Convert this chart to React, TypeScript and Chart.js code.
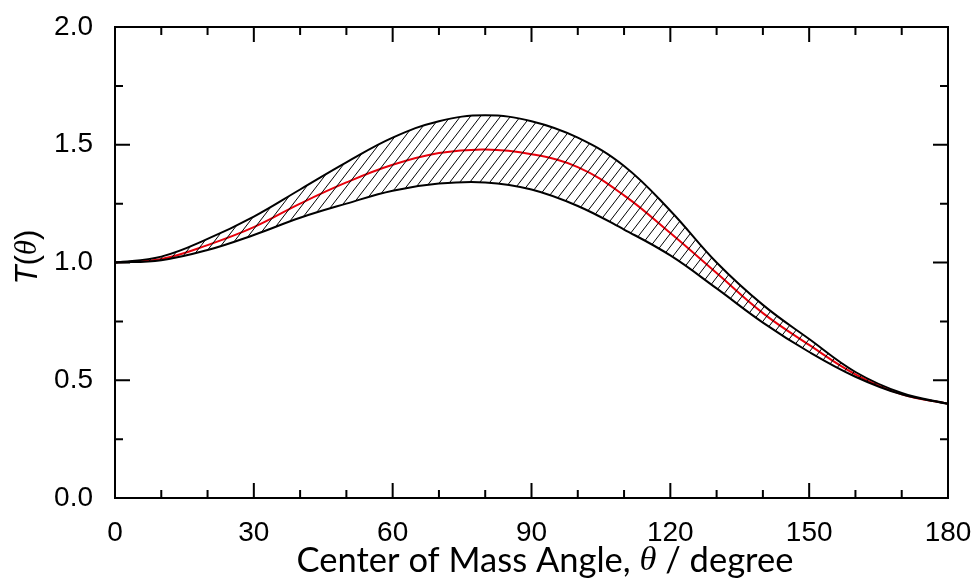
import React, { useEffect, useRef } from "react";
import { Chart, registerables } from "chart.js";

Chart.register(...registerables);

// ---- data ----
const angles = [0, 10, 20, 30, 40, 50, 60, 70, 80, 90, 100, 110, 120, 130, 140, 150, 160, 170, 180];
const upperBound = [1.0, 1.025, 1.1, 1.195, 1.31, 1.425, 1.53, 1.6, 1.625, 1.6, 1.53, 1.41, 1.22, 1.0, 0.82, 0.675, 0.535, 0.446, 0.4];
const lowerBound = [1.0, 1.01, 1.053, 1.117, 1.19, 1.25, 1.305, 1.335, 1.34, 1.31, 1.24, 1.14, 1.03, 0.89, 0.745, 0.62, 0.515, 0.44, 0.4];
const meanT = [1.0, 1.015, 1.074, 1.15, 1.25, 1.34, 1.415, 1.465, 1.48, 1.46, 1.405, 1.285, 1.125, 0.955, 0.785, 0.65, 0.525, 0.44, 0.4];

const xMajorTicks = [0, 30, 60, 90, 120, 150, 180];
const xMinorTicks = [10, 20, 40, 50, 70, 80, 100, 110, 130, 140, 160, 170];
const yMajorTicks = [0, 0.5, 1.0, 1.5, 2.0];
const yMinorTicks = [0.25, 0.75, 1.25, 1.75];

const xTitleParts = [
  { text: "Center of Mass Angle, ", font: "34.5px Lato" },
  { text: "\u03B8", font: "italic 34.5px 'Liberation Serif'" },
  { text: " / degree", font: "34.5px Lato" },
];
const yTitleParts = [
  { text: "T", font: "italic 31px 'Liberation Sans'" },
  { text: "(", font: "31px 'Liberation Sans'" },
  { text: "\u03B8", font: "italic 31px 'Liberation Serif'" },
  { text: ")", font: "31px 'Liberation Sans'" },
];

function drawParts(ctx: CanvasRenderingContext2D, parts: { text: string; font: string }[], cx: number, cy: number) {
  let total = 0;
  const widths = parts.map((p) => {
    ctx.font = p.font;
    const w = ctx.measureText(p.text).width;
    total += w;
    return w;
  });
  let x = cx - total / 2;
  ctx.textBaseline = "middle";
  ctx.textAlign = "left";
  parts.forEach((p, i) => {
    ctx.font = p.font;
    ctx.fillText(p.text, x, cy);
    x += widths[i];
  });
}

const framePlugin = {
  id: "framePlugin",
  afterDraw(chart: any) {
    const { ctx, chartArea: a, scales } = chart;
    const xs = scales.x;
    const ys = scales.y;
    ctx.save();
    ctx.strokeStyle = "#000";
    ctx.lineWidth = 2;
    ctx.strokeRect(a.left, a.top, a.right - a.left, a.bottom - a.top);
    ctx.beginPath();
    const xt = (v: number, len: number) => {
      const px = xs.getPixelForValue(v);
      ctx.moveTo(px, a.bottom);
      ctx.lineTo(px, a.bottom - len);
      ctx.moveTo(px, a.top);
      ctx.lineTo(px, a.top + len);
    };
    const yt = (v: number, len: number) => {
      const py = ys.getPixelForValue(v);
      ctx.moveTo(a.left, py);
      ctx.lineTo(a.left + len, py);
      ctx.moveTo(a.right, py);
      ctx.lineTo(a.right - len, py);
    };
    xMajorTicks.forEach((v) => xt(v, 15));
    xMinorTicks.forEach((v) => xt(v, 8));
    yMajorTicks.forEach((v) => yt(v, 15));
    yMinorTicks.forEach((v) => yt(v, 8));
    ctx.stroke();

    ctx.fillStyle = "#000";
    drawParts(ctx, xTitleParts, 545, 561);
    ctx.save();
    ctx.translate(28, 257);
    ctx.rotate(-Math.PI / 2);
    drawParts(ctx, yTitleParts, 0, 0);
    ctx.restore();
    ctx.restore();
  },
};

function makeHatch(): CanvasPattern | string {
  const w = 10;
  const h = 13;
  const c = document.createElement("canvas");
  c.width = w;
  c.height = h;
  const g = c.getContext("2d");
  if (!g) return "rgba(0,0,0,0.2)";
  g.strokeStyle = "#000";
  g.lineWidth = 1;
  g.beginPath();
  g.moveTo(0, h);
  g.lineTo(w, 0);
  g.moveTo(-w, h);
  g.lineTo(0, 0);
  g.moveTo(w, h);
  g.lineTo(2 * w, 0);
  g.stroke();
  const p = g.createPattern(c, "repeat");
  return p || "rgba(0,0,0,0.2)";
}

export default function App() {
  const ref = useRef<HTMLCanvasElement>(null);
  useEffect(() => {
    if (!ref.current) return;
    const hatch = makeHatch();
    const pts = (arr: number[]) => angles.map((a, i) => ({ x: a, y: arr[i] }));
    const chart = new Chart(ref.current, {
      type: "line",
      data: {
        datasets: [
          {
            data: pts(upperBound),
            borderColor: "#000",
            borderWidth: 2,
            backgroundColor: hatch as any,
            fill: 1,
            pointRadius: 0,
            tension: 0.4,
          },
          {
            data: pts(lowerBound),
            borderColor: "#000",
            borderWidth: 2,
            fill: false,
            pointRadius: 0,
            tension: 0.4,
          },
          {
            data: pts(meanT),
            borderColor: "#e8000b",
            borderWidth: 2,
            fill: false,
            pointRadius: 0,
            tension: 0.4,
          },
        ],
      },
      options: {
        animation: false,
        responsive: false,
        maintainAspectRatio: false,
        layout: { padding: { left: 0, right: 29, top: 27, bottom: 0 } },
        plugins: { legend: { display: false }, tooltip: { enabled: false } },
        scales: {
          x: {
            type: "linear",
            min: 0,
            max: 180,
            afterBuildTicks: (s: any) => {
              s.ticks = xMajorTicks.map((v) => ({ value: v }));
            },
            afterFit: (s: any) => {
              s.height = 88;
              s.paddingLeft = 0;
              s.paddingRight = 0;
            },
            grid: { display: false },
            border: { display: false },
            ticks: {
              color: "#000",
              padding: 10,
              maxRotation: 0,
              font: { family: "'Liberation Sans'", size: 28 },
            },
          },
          y: {
            type: "linear",
            min: 0,
            max: 2,
            afterBuildTicks: (s: any) => {
              s.ticks = yMajorTicks.map((v) => ({ value: v }));
            },
            afterFit: (s: any) => {
              s.width = 115;
              s.paddingTop = 0;
              s.paddingBottom = 0;
            },
            grid: { display: false },
            border: { display: false },
            ticks: {
              color: "#000",
              padding: 14,
              font: { family: "'Liberation Sans'", size: 28 },
              callback: (v: any) => Number(v).toFixed(1),
            },
          },
        },
      },
      plugins: [framePlugin],
    });
    return () => chart.destroy();
  }, []);
  return (
    <div style={{ position: "absolute", left: 0, top: 0, width: 977, height: 586, background: "#fff" }}>
      <canvas ref={ref} width={977} height={586} style={{ width: 977, height: 586 }} />
    </div>
  );
}
